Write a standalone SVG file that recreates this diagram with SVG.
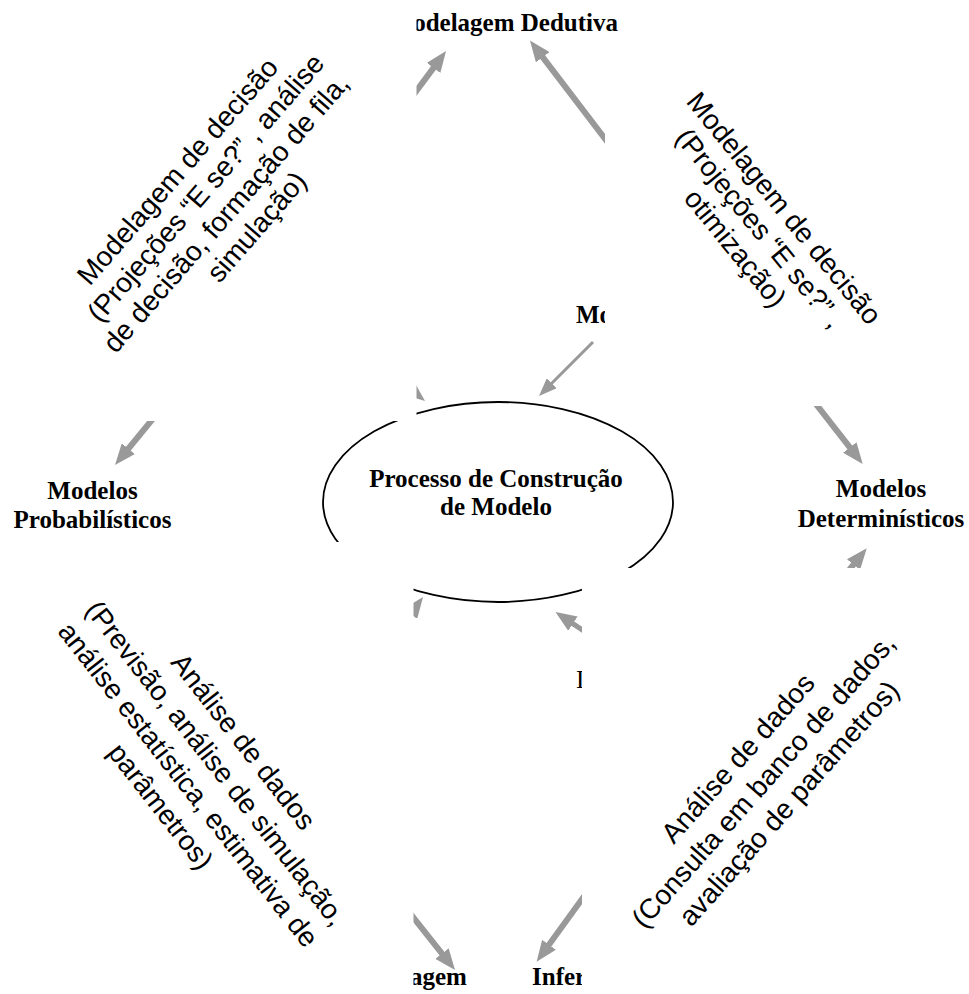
<svg xmlns="http://www.w3.org/2000/svg" width="969" height="994" viewBox="0 0 969 994">
  <defs>
    <style>
      .node{font-family:"Liberation Serif","Times New Roman",serif;font-weight:bold;font-size:25px;fill:#000}
      .reg{font-weight:normal}
      .mid{text-anchor:middle}
      .note{font-family:"Liberation Sans",Arial,sans-serif;font-size:28px;fill:#000;text-anchor:middle}
      .arrow{stroke:#999;fill:none;stroke-linecap:butt}
      .w6{stroke-width:6;marker-end:url(#head)}
      .w5{stroke-width:5;marker-end:url(#head)}
      .w3{stroke-width:3;marker-end:url(#headThin)}
      .back{fill:#fff}
    </style>
    <marker id="head" markerUnits="userSpaceOnUse" viewBox="0 0 21 17" markerWidth="21" markerHeight="17" refX="1" refY="8.5" orient="auto">
      <path d="M0,0 L21,8.5 L0,17 z" fill="#999"/>
    </marker>
    <marker id="headThin" markerUnits="userSpaceOnUse" viewBox="0 0 18 14" markerWidth="18" markerHeight="14" refX="1" refY="7" orient="auto">
      <path d="M0,0 L18,7 L0,14 z" fill="#999"/>
    </marker>
  </defs>

  <rect width="969" height="994" fill="#fff"/>

  <!-- arrows -->
  <g id="connectors">
    <line class="arrow w6" x1="380.3" y1="139.3" x2="434.1" y2="67.1"/>
    <line class="arrow w6" x1="633" y1="175.5" x2="542.1" y2="56.4"/>
    <line class="arrow w6" x1="178.4" y1="387.7" x2="127.7" y2="449.5"/>
    <line class="arrow w6" x1="801.2" y1="385.1" x2="850.4" y2="448.2"/>
    <line class="arrow w6" x1="816.1" y1="610.3" x2="854.1" y2="563.8"/>
    <line class="arrow w6" x1="386.7" y1="883.8" x2="442.6" y2="954.3"/>
    <line class="arrow w6" x1="601.3" y1="872.6" x2="548.4" y2="945.5"/>
    <line class="arrow w3" x1="593" y1="342" x2="551" y2="384"/>
    <line class="arrow w6" x1="340" y1="333" x2="409.4" y2="388.5"/>
    <line class="arrow w6" x1="374.8" y1="660.9" x2="411" y2="613"/>
    <line class="arrow w5" x1="614.6" y1="651.6" x2="572.1" y2="623.1"/>
  </g>

  <g id="process">
    <ellipse cx="498" cy="502" rx="175" ry="100" fill="none" stroke="#000" stroke-width="1.8"/>
    <text class="node mid" x="496" y="487">Processo de Construção</text>
    <text class="node mid" x="496" y="515">de Modelo</text>
  </g>

  <g id="deductive">
    <text class="node" x="618" y="31" text-anchor="end">odelagem Dedutiva</text>
  </g>
  <g id="probabilistic">
    <text class="node mid" x="92.5" y="499">Modelos</text>
    <text class="node mid" x="92.5" y="528">Probabilísticos</text>
  </g>
  <g id="deterministic">
    <text class="node mid" x="881" y="497">Modelos</text>
    <text class="node mid" x="881" y="527">Determinísticos</text>
  </g>
  <g id="upper-mark">
    <text class="node" x="576" y="323">Mo</text>
  </g>
  <g id="lower-mark">
    <text class="node reg" x="576" y="688">I</text>
  </g>
  <g id="inductive">
    <text class="node" x="410" y="985">agem</text>
  </g>
  <g id="inference">
    <text class="node" x="532" y="985">Infer</text>
  </g>

  <!-- opaque backs of the four slanted notes -->
  <g id="note-backs">
    <rect class="back" x="0" y="0" width="416.5" height="421"/>
    <rect class="back" x="605" y="40" width="364" height="366"/>
    <rect class="back" x="0" y="542" width="413.5" height="452"/>
    <rect class="back" x="582" y="568" width="387" height="426"/>
  </g>

  <g id="note-upper-left" transform="translate(221 209) rotate(-49)">
    <text class="note" x="0" y="-48">Modelagem de decisão</text>
    <text class="note" x="6" y="-16">(Projeções “E se?” , análise</text>
    <text class="note" x="0" y="16">de decisão, formação de fila,</text>
    <text class="note" x="10" y="48">simulação)</text>
  </g>

  <g id="note-upper-right" transform="translate(752.4 234.2) rotate(50.8)">
    <text class="note" x="0" y="-31.5">Modelagem de decisão</text>
    <text class="note" x="0" y="0">(Projeções “E se?” ,</text>
    <text class="note" x="0" y="31.5">otimização)</text>
  </g>

  <g id="note-lower-left" transform="translate(194.6 779.8) rotate(52)">
    <text class="note" x="0" y="-52.5">Análise de dados</text>
    <text class="note" x="0" y="-17.5">(Previsão, análise de simulação,</text>
    <text class="note" x="0" y="17.5">análise estatística, estimativa de</text>
    <text class="note" x="0" y="52.5">parâmetros)</text>
  </g>

  <g id="note-lower-right" transform="translate(770.5 787) rotate(-48.5)">
    <text class="note" x="0" y="-34">Análise de dados</text>
    <text class="note" x="0" y="0">(Consulta em banco de dados,</text>
    <text class="note" x="0" y="34">avaliação de parâmetros)</text>
  </g>
</svg>
